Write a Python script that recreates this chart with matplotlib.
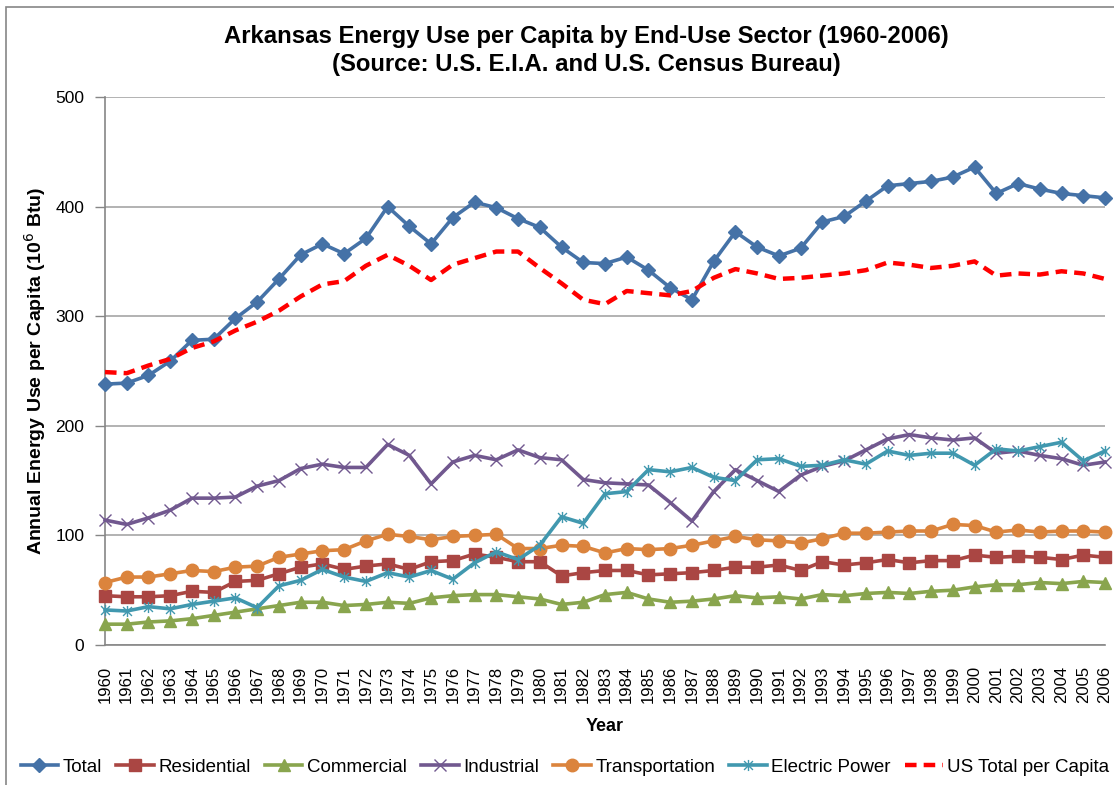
import numpy as np
import matplotlib
matplotlib.use("Agg")
import matplotlib.pyplot as plt
from matplotlib.path import Path
from matplotlib.patches import Rectangle
from matplotlib.ticker import FixedLocator

years = list(range(1960, 2007))

total = [238, 239, 246, 259, 278, 279, 298, 313, 334, 356, 366, 357, 371, 400, 382,
         366, 390, 404, 399, 389, 381, 363, 349, 348, 354, 342, 326, 315, 350, 377,
         363, 355, 362, 386, 391, 405, 419, 421, 423, 427, 436, 412, 421, 416, 412,
         410, 408]
residential = [45, 44, 44, 45, 49, 48, 58, 59, 65, 71, 74, 69, 72, 74, 69,
               76, 77, 83, 80, 76, 76, 63, 66, 68, 68, 64, 65, 66, 68, 71,
               71, 73, 68, 76, 73, 75, 78, 75, 77, 77, 82, 80, 81, 80, 78,
               82, 80]
commercial = [19, 19, 21, 22, 24, 27, 30, 33, 36, 39, 39, 36, 37, 39, 38,
              43, 45, 46, 46, 44, 42, 37, 39, 46, 48, 42, 39, 40, 42, 45,
              43, 44, 42, 46, 45, 47, 48, 47, 49, 50, 53, 55, 55, 57, 56,
              58, 57]
industrial = [114, 110, 116, 123, 134, 134, 135, 145, 150, 161, 165, 162, 162, 183, 173,
              147, 167, 173, 169, 178, 171, 169, 151, 148, 147, 146, 130, 113, 140, 160,
              150, 140, 155, 163, 168, 178, 188, 192, 189, 187, 189, 175, 177, 173, 170,
              164, 167]
transportation = [57, 62, 62, 65, 68, 67, 71, 72, 80, 83, 86, 87, 95, 101, 99,
                  96, 99, 100, 101, 88, 88, 91, 90, 84, 88, 87, 88, 91, 95, 99,
                  96, 95, 93, 97, 102, 102, 103, 104, 104, 110, 109, 103, 105, 103, 104,
                  104, 103]
electric = [32, 31, 35, 33, 37, 40, 43, 34, 54, 59, 69, 62, 58, 66, 62,
            68, 60, 75, 85, 78, 91, 117, 111, 138, 140, 160, 158, 162, 153, 150,
            169, 170, 163, 164, 169, 165, 177, 173, 175, 175, 164, 179, 177, 181, 185,
            168, 177]
us_total = [249, 248, 255, 261, 271, 277, 287, 295, 305, 318, 329, 332, 346, 356, 346,
            333, 347, 353, 359, 359, 344, 330, 315, 311, 323, 321, 319, 323, 335, 343,
            339, 334, 335, 337, 339, 342, 349, 347, 344, 346, 350, 337, 339, 338, 341,
            339, 334]

decades = [1960, 1970, 1980, 1990, 2000]
yticks = [0, 100, 200, 300, 400, 500]

title = "Arkansas Energy Use per Capita by End-Use Sector (1960-2006)\n(Source: U.S. E.I.A. and U.S. Census Bureau)"

plt.rcParams['font.family'] = ['Liberation Sans', 'DejaVu Sans']

W, H = 1114, 785
fig = plt.figure(figsize=(W / 100, H / 100), dpi=100)
ax = fig.add_axes([105 / W, 1 - 645 / H, 1000 / W, 548 / H])

# star marker (X with vertical line) like Excel
star = Path([(-1, -1), (1, 1), (-1, 1), (1, -1), (0, -1.25), (0, 1.25)],
            [Path.MOVETO, Path.LINETO, Path.MOVETO, Path.LINETO, Path.MOVETO, Path.LINETO])

lw = 2.6
series = [
    ("Total", total, '#4572A7', 'D', 7.5),
    ("Residential", residential, '#AA4643', 's', 8.5),
    ("Commercial", commercial, '#89A54E', '^', 8.5),
    ("Industrial", industrial, '#71588F', 'x', 8.5),
    ("Transportation", transportation, '#DB843D', 'o', 9),
    ("Electric Power", electric, '#4198AF', star, 8),
]
for name, vals, col, mk, ms in series:
    if isinstance(mk, Path) or mk == 'x':
        kw = dict(markeredgewidth=1.0, markeredgecolor=col)
    else:
        kw = dict(markeredgecolor=col)
    ax.plot(years, vals, color=col, lw=lw, marker=mk, markersize=ms,
            markerfacecolor=col, clip_on=False, zorder=3, label=name, **kw)

ax.plot(years, us_total, color='#FF0000', lw=3.2, ls=(0, (2.6, 1.6)),
        clip_on=False, zorder=4, label="US Total per Capita")

ax.set_xlim(1960, 2006)
ax.set_ylim(0, 500)

# ticks
ax.xaxis.set_major_locator(FixedLocator(years))
ax.set_xticklabels([str(y) for y in years], rotation=90, fontsize=12)
ax.xaxis.set_minor_locator(FixedLocator(decades))
ax.tick_params(axis='x', which='major', length=0, pad=15)
ax.tick_params(axis='x', which='minor', length=6, color='#868686', width=1)
ax.set_yticks(yticks)
ax.tick_params(axis='y', which='major', length=7, color='#868686', width=1,
               labelsize=12.5, pad=8)

ax.grid(True, which='major', axis='y', color='#A6A6A6', lw=1.2)
ax.grid(True, which='minor', axis='x', color='#A6A6A6', lw=1.2)
ax.set_axisbelow(True)
for s in ['top', 'right']:
    ax.spines[s].set_visible(False)
for s in ['left', 'bottom']:
    ax.spines[s].set_color('#868686')
    ax.spines[s].set_linewidth(1.2)

fig.text(586 / W, 1 - 50.5 / H, title, ha='center', va='center', fontsize=17.2,
         fontweight='bold', linespacing=1.3)
ax.set_ylabel("Annual Energy Use per Capita (10$^6$ Btu)", fontsize=14,
              fontweight='bold')
ax.yaxis.set_label_coords(-57 / 1000, 0.5)
ax.set_xlabel("Year", fontsize=13, fontweight='bold')
ax.xaxis.set_label_coords(0.5, -(73 / 548))

leg = fig.legend(loc='center', bbox_to_anchor=(565 / W, 1 - 767 / H), ncol=7,
                 frameon=False, fontsize=13.5, handlelength=2.0, columnspacing=0.75,
                 handletextpad=0.25, borderaxespad=0)

fig.add_artist(Rectangle((6 / W, -0.05), 1.2, (H - 7) / H + 0.05,
                         transform=fig.transFigure, fill=False,
                         edgecolor='#868686', lw=1.2))

fig.savefig("out.png", dpi=100)
